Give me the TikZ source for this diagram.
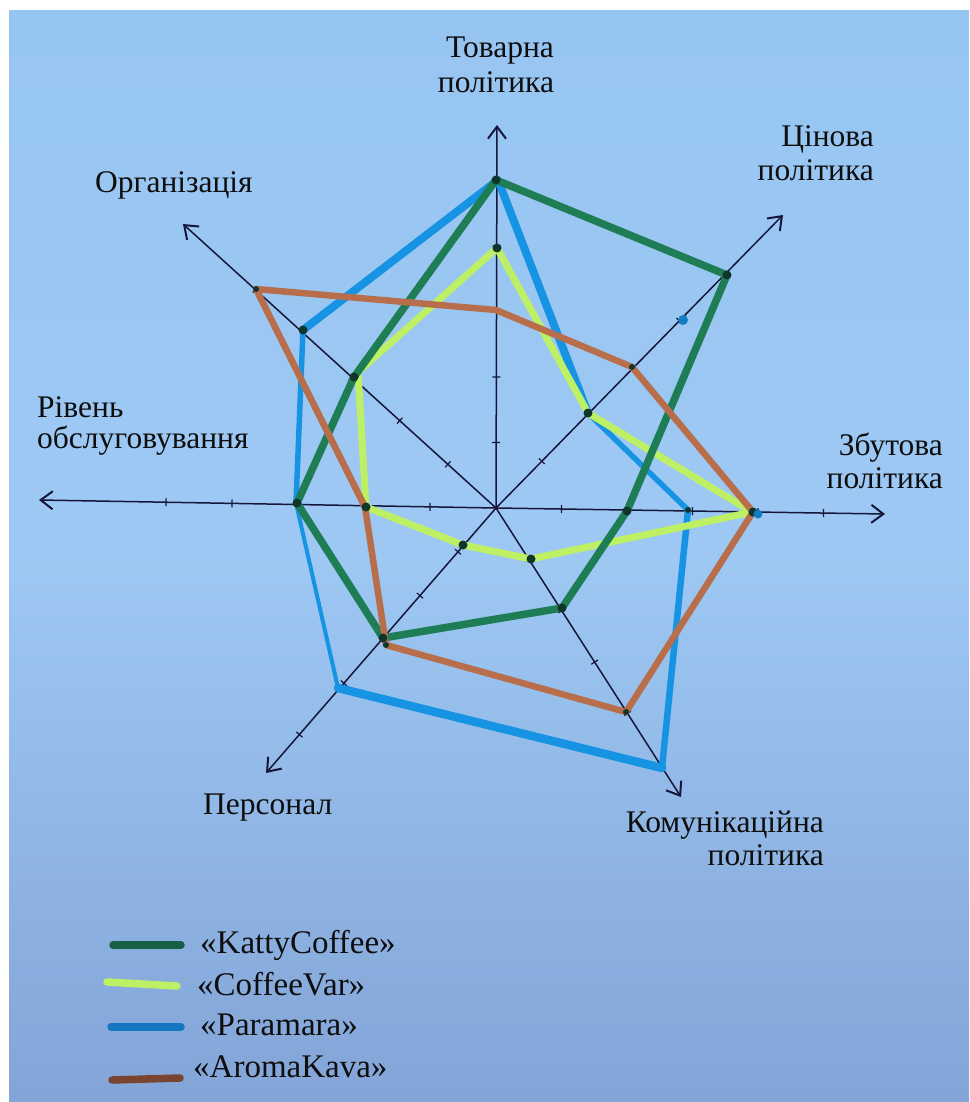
\documentclass[tikz,border=0pt]{standalone}
\usepackage{fontspec}
\setmainfont{Liberation Serif}
\usetikzlibrary{arrows.meta,calc}
\definecolor{bgtop}{HTML}{97C5F2}
\definecolor{bgbot}{HTML}{83A4D7}
\definecolor{axisc}{HTML}{16163A}
\definecolor{katty}{HTML}{1F7D55}
\definecolor{kattyleg}{HTML}{176048}
\definecolor{limec}{HTML}{BDF064}
\definecolor{bluec}{HTML}{1693E3}
\definecolor{blueleg}{HTML}{1677C0}
\definecolor{brownc}{HTML}{B96E4B}
\definecolor{brownleg}{HTML}{7A4530}
\definecolor{dotc}{HTML}{10352C}
\definecolor{textc}{HTML}{0E0E0E}
\tikzset{
  axisline/.style={draw=axisc, line width=1.5pt, -{Straight Barb[length=12pt,width=18pt,line width=2pt]}},
  tickmark/.style={draw=axisc, line width=1.2pt},
  poly/.style={line join=round, line cap=round},
  vdot/.style={fill=dotc},
  axlabel/.style={text=textc, font=\fontsize{31.5}{36}\selectfont, inner sep=0pt},
  leglabel/.style={text=textc, font=\fontsize{33}{38}\selectfont, inner sep=0pt},
  legline/.style={line width=7.5pt, line cap=round}
}
\begin{document}
\begin{tikzpicture}[x=1pt,y=-1pt]
\useasboundingbox (0,0) rectangle (969,1102);
\fill[white] (0,0) rectangle (969,1102);
\begin{scope}[y=1pt]
\shade[top color=bgtop, bottom color=bgbot, middle color=bgtop!94!white] (9,-11) rectangle (969,-1102);
\end{scope}

% centre and axis tips
\coordinate (C) at (496,508);
\coordinate (aT) at (497,125);
\coordinate (aC) at (783,215);
\coordinate (aZ) at (885,514);
\coordinate (aK) at (681,797);
\coordinate (aP) at (266,773);
\coordinate (aR) at (39,500);
\coordinate (aO) at (183,224);

% axes
\foreach \t in {aT,aC,aZ,aK,aP,aR,aO} \draw[axisline] (C) -- (\t);

% ticks: axis tip / list of distances in px
\foreach \t/\dl in {aT/{65.5,131,196.5,262,327.5}, aC/{65.5,131,196.5,262,327.5},
                    aZ/{65.5,131,196.5,262,327.5}, aK/{61,122,183,244,305},
                    aP/{58,116,174,232,300}, aR/{66,132,198,264,330},
                    aO/{65,130,195,260,325}}{
  \foreach \d in \dl {
    \coordinate (tk) at ($(C)!\d pt!(\t)$);
    \draw[tickmark] ($(tk)!4pt!90:(\t)$) -- ($(tk)!4pt!-90:(\t)$);
  }
}

% vertices
\coordinate (gT) at (496,180); \coordinate (gC) at (727,275); \coordinate (gZ) at (627,511);
\coordinate (gK) at (562,608); \coordinate (gP) at (383,638); \coordinate (gR) at (297,503);
\coordinate (gO) at (354,377);
\coordinate (lT) at (497,248); \coordinate (lC) at (588,413); \coordinate (lZ) at (752,512);
\coordinate (lK) at (531,559); \coordinate (lP) at (463,545); \coordinate (lR) at (366,507);
\coordinate (lO) at (358,372);
\coordinate (bT) at (498,180); \coordinate (bC) at (588,413); \coordinate (bZ) at (688,510);
\coordinate (bK) at (662,768); \coordinate (bP) at (338,688); \coordinate (bR) at (296,503);
\coordinate (bO) at (303,330);
\coordinate (rT) at (496,310); \coordinate (rC) at (632,367); \coordinate (rZ) at (753,512);
\coordinate (rK) at (626,712); \coordinate (rP) at (386,645); \coordinate (rR) at (365,507);
\coordinate (rO) at (256,289);

% Paramara (blue)
\draw[poly, bluec, line width=8pt] (bO) -- (bT) -- (bC);
\draw[poly, bluec, line width=5.5pt] (bC) -- (bZ);
\draw[poly, bluec, line width=6.5pt] (bZ) -- (bK);
\draw[poly, bluec, line width=8.5pt] (bK) -- (bP);
\draw[poly, bluec, line width=4pt] (bP) -- (bR);
\draw[poly, bluec, line width=5.5pt] (bR) -- (bO);
% CoffeeVar (lime)
\draw[poly, limec, line width=7pt] (lT) -- (lC) -- (lZ) -- (lK) -- (lP) -- (lR) -- (lO) -- cycle;
% KattyCoffee (green)
\draw[poly, katty, line width=7.5pt] (gT) -- (gC) -- (gZ) -- (gK) -- (gP) -- (gR) -- (gO) -- cycle;
% AromaKava (brown)
\draw[poly, brownc, line width=6.5pt] (rT) -- (rC) -- (rZ) -- (rK) -- (rP) -- (rR) -- (rO) -- cycle;

% vertex dots
\foreach \v in {gT,gC,gZ,gK,gP,gR,gO,lT,lC,lK,lP,lR,bO,rZ}
  \fill[vdot] (\v) circle (4.5);
\foreach \v in {bZ,rC,rK,rO,rP}
  \fill[vdot] (\v) circle (3);
\coordinate (sd1) at (683,320);
\coordinate (sd2) at (758,514);
\fill[bluec!85!black] (sd1) circle (5);
\fill[bluec!85!black] (sd2) circle (4.5);

% axis labels
\node[axlabel, anchor=base] (tT1) at (500,58) {Товарна};
\node[axlabel, anchor=base] (tT2) at (496,93) {політика};
\node[axlabel, anchor=base east] (tC1) at (874,147) {Цінова};
\node[axlabel, anchor=base east] (tC2) at (874,181) {політика};
\node[axlabel, anchor=base east] (tZ1) at (943,455) {Збутова};
\node[axlabel, anchor=base east] (tZ2) at (943,488) {політика};
\node[axlabel, anchor=base east] (tK1) at (824,832) {Комунікаційна};
\node[axlabel, anchor=base east] (tK2) at (824,865) {політика};
\node[axlabel, anchor=base west] (tP) at (203,814) {Персонал};
\node[axlabel, anchor=base west] (tR1) at (37,417) {Рівень};
\node[axlabel, anchor=base west] (tR2) at (37,448) {обслуговування};
\node[axlabel, anchor=base west] (tO) at (95,193) {Організація};

% legend
\coordinate (k1) at (113,945); \coordinate (k2) at (181,945);
\coordinate (c1) at (107,982); \coordinate (c2) at (177,986);
\coordinate (p1) at (111,1027); \coordinate (p2) at (181,1027);
\coordinate (m1) at (112,1080); \coordinate (m2) at (180,1078);
\draw[legline, kattyleg] (k1) -- (k2);
\draw[legline, limec] (c1) -- (c2);
\draw[legline, blueleg] (p1) -- (p2);
\draw[legline, brownleg] (m1) -- (m2);
\node[leglabel, anchor=base west] (lk) at (200,953) {«KattyCoffee»};
\node[leglabel, anchor=base west] (lc) at (197,995) {«CoffeeVar»};
\node[leglabel, anchor=base west] (lp) at (200,1035) {«Paramara»};
\node[leglabel, anchor=base west] (lm) at (193,1077) {«AromaKava»};
\end{tikzpicture}
\end{document}
